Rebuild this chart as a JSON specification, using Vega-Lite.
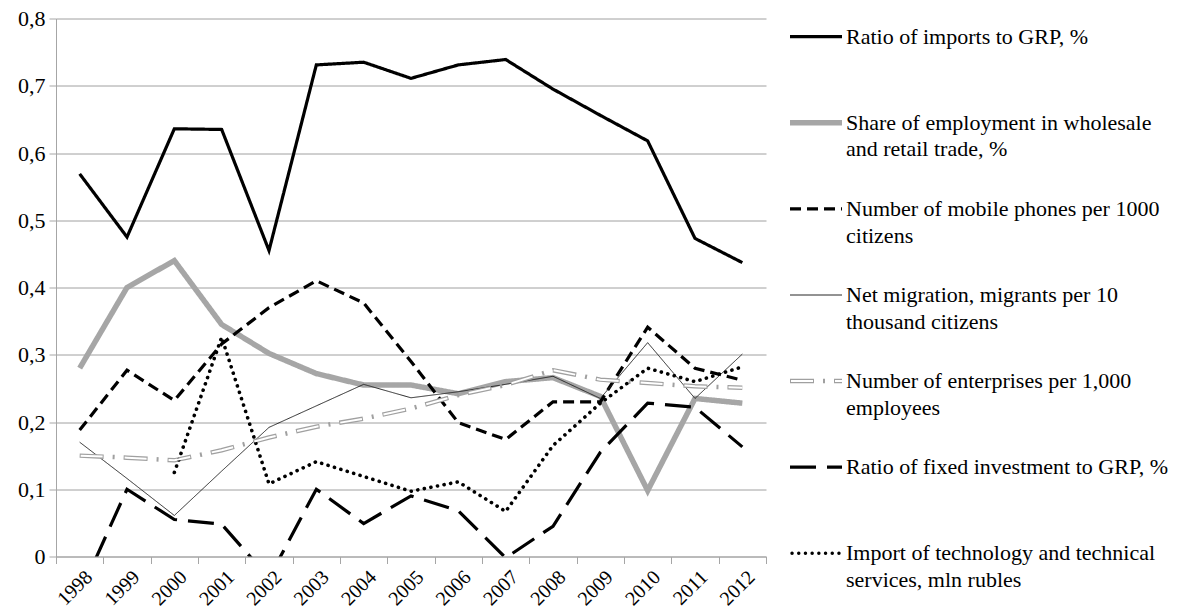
{
  "$schema": "https://vega.github.io/schema/vega-lite/v6.json",
  "autosize": {"type": "none"},
  "width": 710,
  "height": 538,
  "padding": {"left": 56, "top": 18.5, "right": 413, "bottom": 58.5},
  "background": "white",
  "config": {
    "view": {"stroke": null},
    "font": "Liberation Serif",
    "axis": {"labelFont": "Liberation Serif"},
    "text": {"font": "Liberation Serif"}
  },
  "datasets": {
    "main": [
      {"year": "1998", "series": "Ratio of imports to GRP, %", "value": 0.569},
      {"year": "1999", "series": "Ratio of imports to GRP, %", "value": 0.475},
      {"year": "2000", "series": "Ratio of imports to GRP, %", "value": 0.636},
      {"year": "2001", "series": "Ratio of imports to GRP, %", "value": 0.635},
      {"year": "2002", "series": "Ratio of imports to GRP, %", "value": 0.455},
      {"year": "2003", "series": "Ratio of imports to GRP, %", "value": 0.731},
      {"year": "2004", "series": "Ratio of imports to GRP, %", "value": 0.735},
      {"year": "2005", "series": "Ratio of imports to GRP, %", "value": 0.711},
      {"year": "2006", "series": "Ratio of imports to GRP, %", "value": 0.731},
      {"year": "2007", "series": "Ratio of imports to GRP, %", "value": 0.739},
      {"year": "2008", "series": "Ratio of imports to GRP, %", "value": 0.695},
      {"year": "2009", "series": "Ratio of imports to GRP, %", "value": 0.656},
      {"year": "2010", "series": "Ratio of imports to GRP, %", "value": 0.618},
      {"year": "2011", "series": "Ratio of imports to GRP, %", "value": 0.473},
      {"year": "2012", "series": "Ratio of imports to GRP, %", "value": 0.437},

      {"year": "1998", "series": "Share of employment in wholesale and retail trade, %", "value": 0.28},
      {"year": "1999", "series": "Share of employment in wholesale and retail trade, %", "value": 0.4},
      {"year": "2000", "series": "Share of employment in wholesale and retail trade, %", "value": 0.44},
      {"year": "2001", "series": "Share of employment in wholesale and retail trade, %", "value": 0.345},
      {"year": "2002", "series": "Share of employment in wholesale and retail trade, %", "value": 0.302},
      {"year": "2003", "series": "Share of employment in wholesale and retail trade, %", "value": 0.272},
      {"year": "2004", "series": "Share of employment in wholesale and retail trade, %", "value": 0.255},
      {"year": "2005", "series": "Share of employment in wholesale and retail trade, %", "value": 0.255},
      {"year": "2006", "series": "Share of employment in wholesale and retail trade, %", "value": 0.242},
      {"year": "2007", "series": "Share of employment in wholesale and retail trade, %", "value": 0.26},
      {"year": "2008", "series": "Share of employment in wholesale and retail trade, %", "value": 0.266},
      {"year": "2009", "series": "Share of employment in wholesale and retail trade, %", "value": 0.238},
      {"year": "2010", "series": "Share of employment in wholesale and retail trade, %", "value": 0.098},
      {"year": "2011", "series": "Share of employment in wholesale and retail trade, %", "value": 0.235},
      {"year": "2012", "series": "Share of employment in wholesale and retail trade, %", "value": 0.228},

      {"year": "1998", "series": "Number of mobile phones per 1000 citizens", "value": 0.188},
      {"year": "1999", "series": "Number of mobile phones per 1000 citizens", "value": 0.277},
      {"year": "2000", "series": "Number of mobile phones per 1000 citizens", "value": 0.232},
      {"year": "2001", "series": "Number of mobile phones per 1000 citizens", "value": 0.316},
      {"year": "2002", "series": "Number of mobile phones per 1000 citizens", "value": 0.37},
      {"year": "2003", "series": "Number of mobile phones per 1000 citizens", "value": 0.41},
      {"year": "2004", "series": "Number of mobile phones per 1000 citizens", "value": 0.377},
      {"year": "2005", "series": "Number of mobile phones per 1000 citizens", "value": 0.29},
      {"year": "2006", "series": "Number of mobile phones per 1000 citizens", "value": 0.199},
      {"year": "2007", "series": "Number of mobile phones per 1000 citizens", "value": 0.174},
      {"year": "2008", "series": "Number of mobile phones per 1000 citizens", "value": 0.23},
      {"year": "2009", "series": "Number of mobile phones per 1000 citizens", "value": 0.23},
      {"year": "2010", "series": "Number of mobile phones per 1000 citizens", "value": 0.341},
      {"year": "2011", "series": "Number of mobile phones per 1000 citizens", "value": 0.28},
      {"year": "2012", "series": "Number of mobile phones per 1000 citizens", "value": 0.262},

      {"year": "1998", "series": "Net migration, migrants per 10 thousand citizens", "value": 0.17},
      {"year": "1999", "series": "Net migration, migrants per 10 thousand citizens", "value": 0.116},
      {"year": "2000", "series": "Net migration, migrants per 10 thousand citizens", "value": 0.061},
      {"year": "2001", "series": "Net migration, migrants per 10 thousand citizens", "value": 0.127},
      {"year": "2002", "series": "Net migration, migrants per 10 thousand citizens", "value": 0.192},
      {"year": "2003", "series": "Net migration, migrants per 10 thousand citizens", "value": 0.224},
      {"year": "2004", "series": "Net migration, migrants per 10 thousand citizens", "value": 0.256},
      {"year": "2005", "series": "Net migration, migrants per 10 thousand citizens", "value": 0.236},
      {"year": "2006", "series": "Net migration, migrants per 10 thousand citizens", "value": 0.245},
      {"year": "2007", "series": "Net migration, migrants per 10 thousand citizens", "value": 0.256},
      {"year": "2008", "series": "Net migration, migrants per 10 thousand citizens", "value": 0.268},
      {"year": "2009", "series": "Net migration, migrants per 10 thousand citizens", "value": 0.235},
      {"year": "2010", "series": "Net migration, migrants per 10 thousand citizens", "value": 0.318},
      {"year": "2011", "series": "Net migration, migrants per 10 thousand citizens", "value": 0.235},
      {"year": "2012", "series": "Net migration, migrants per 10 thousand citizens", "value": 0.301},

      {"year": "1998", "series": "Number of enterprises per 1,000 employees", "value": 0.15},
      {"year": "1999", "series": "Number of enterprises per 1,000 employees", "value": 0.147},
      {"year": "2000", "series": "Number of enterprises per 1,000 employees", "value": 0.143},
      {"year": "2001", "series": "Number of enterprises per 1,000 employees", "value": 0.158},
      {"year": "2002", "series": "Number of enterprises per 1,000 employees", "value": 0.177},
      {"year": "2003", "series": "Number of enterprises per 1,000 employees", "value": 0.193},
      {"year": "2004", "series": "Number of enterprises per 1,000 employees", "value": 0.205},
      {"year": "2005", "series": "Number of enterprises per 1,000 employees", "value": 0.22},
      {"year": "2006", "series": "Number of enterprises per 1,000 employees", "value": 0.24},
      {"year": "2007", "series": "Number of enterprises per 1,000 employees", "value": 0.255},
      {"year": "2008", "series": "Number of enterprises per 1,000 employees", "value": 0.277},
      {"year": "2009", "series": "Number of enterprises per 1,000 employees", "value": 0.263},
      {"year": "2010", "series": "Number of enterprises per 1,000 employees", "value": 0.258},
      {"year": "2011", "series": "Number of enterprises per 1,000 employees", "value": 0.253},
      {"year": "2012", "series": "Number of enterprises per 1,000 employees", "value": 0.251},

      {"year": "1998", "series": "Ratio of fixed investment to GRP, %", "value": -0.056},
      {"year": "1999", "series": "Ratio of fixed investment to GRP, %", "value": 0.1},
      {"year": "2000", "series": "Ratio of fixed investment to GRP, %", "value": 0.055},
      {"year": "2001", "series": "Ratio of fixed investment to GRP, %", "value": 0.048},
      {"year": "2002", "series": "Ratio of fixed investment to GRP, %", "value": -0.032},
      {"year": "2003", "series": "Ratio of fixed investment to GRP, %", "value": 0.1},
      {"year": "2004", "series": "Ratio of fixed investment to GRP, %", "value": 0.049},
      {"year": "2005", "series": "Ratio of fixed investment to GRP, %", "value": 0.09},
      {"year": "2006", "series": "Ratio of fixed investment to GRP, %", "value": 0.068},
      {"year": "2007", "series": "Ratio of fixed investment to GRP, %", "value": -0.002},
      {"year": "2008", "series": "Ratio of fixed investment to GRP, %", "value": 0.045},
      {"year": "2009", "series": "Ratio of fixed investment to GRP, %", "value": 0.155},
      {"year": "2010", "series": "Ratio of fixed investment to GRP, %", "value": 0.228},
      {"year": "2011", "series": "Ratio of fixed investment to GRP, %", "value": 0.222},
      {"year": "2012", "series": "Ratio of fixed investment to GRP, %", "value": 0.163},

      {"year": "2000", "series": "Import of technology and technical services, mln rubles", "value": 0.125},
      {"year": "2001", "series": "Import of technology and technical services, mln rubles", "value": 0.326},
      {"year": "2002", "series": "Import of technology and technical services, mln rubles", "value": 0.108},
      {"year": "2003", "series": "Import of technology and technical services, mln rubles", "value": 0.141},
      {"year": "2004", "series": "Import of technology and technical services, mln rubles", "value": 0.119},
      {"year": "2005", "series": "Import of technology and technical services, mln rubles", "value": 0.097},
      {"year": "2006", "series": "Import of technology and technical services, mln rubles", "value": 0.111},
      {"year": "2007", "series": "Import of technology and technical services, mln rubles", "value": 0.067},
      {"year": "2008", "series": "Import of technology and technical services, mln rubles", "value": 0.165},
      {"year": "2009", "series": "Import of technology and technical services, mln rubles", "value": 0.228},
      {"year": "2010", "series": "Import of technology and technical services, mln rubles", "value": 0.28},
      {"year": "2011", "series": "Import of technology and technical services, mln rubles", "value": 0.26},
      {"year": "2012", "series": "Import of technology and technical services, mln rubles", "value": 0.282}
    ],
    "legend": [
      {"series": "Ratio of imports to GRP, %", "label": "Ratio of imports to GRP, %"},
      {"series": "Share of employment in wholesale and retail trade, %", "label": "Share of employment in wholesale\nand retail trade, %"},
      {"series": "Number of mobile phones per 1000 citizens", "label": "Number of mobile phones per 1000\ncitizens"},
      {"series": "Net migration, migrants per 10 thousand citizens", "label": "Net migration, migrants per 10\nthousand citizens"},
      {"series": "Number of enterprises per 1,000 employees", "label": "Number of enterprises per 1,000\nemployees"},
      {"series": "Ratio of fixed investment to GRP, %", "label": "Ratio of fixed investment to GRP, %"},
      {"series": "Import of technology and technical services, mln rubles", "label": "Import of technology and technical\nservices, mln rubles"}
    ]
  },
  "resolve": {"scale": {"x": "independent", "y": "independent"}},
  "layer": [
    {
      "data": {"name": "main"},
      "encoding": {
        "x": {
          "field": "year", "type": "ordinal", "bandPosition": 0.5,
          "scale": {"type": "band", "paddingInner": 0, "paddingOuter": 0},
          "axis": {
            "title": null, "labelAngle": -45, "labelFont": "Liberation Serif", "labelFontSize": 20,
            "labelColor": "black", "tickBand": "extent", "grid": false, "domainColor": "#a6a6a6",
            "tickColor": "#a6a6a6", "tickSize": 7, "labelPadding": 3, "labelOffset": 2
          }
        },
        "y": {
          "field": "value", "type": "quantitative",
          "scale": {"domain": [0, 0.8], "nice": false, "zero": false},
          "axis": {
            "title": null, "values": [0, 0.1, 0.2, 0.3, 0.4, 0.5, 0.6, 0.7, 0.8],
            "labelExpr": "datum.value == 0 ? '0' : replace(format(datum.value, '.1f'), '.', ',')",
            "labelFont": "Liberation Serif", "labelFontSize": 22, "labelColor": "black",
            "grid": true, "gridColor": "#a0a0a0", "domainColor": "#a6a6a6", "tickColor": "#a6a6a6",
            "tickSize": 7, "labelPadding": 4
          }
        },
        "color": {
          "field": "series", "type": "nominal", "legend": null,
          "scale": {
            "domain": ["Ratio of imports to GRP, %", "Share of employment in wholesale and retail trade, %", "Number of mobile phones per 1000 citizens", "Net migration, migrants per 10 thousand citizens", "Number of enterprises per 1,000 employees", "Ratio of fixed investment to GRP, %", "Import of technology and technical services, mln rubles"],
            "range": ["#000000", "#a6a6a6", "#000000", "#262626", "#a0a0a0", "#000000", "#000000"]
          }
        },
        "strokeDash": {
          "field": "series", "type": "nominal", "legend": null,
          "scale": {
            "domain": ["Ratio of imports to GRP, %", "Share of employment in wholesale and retail trade, %", "Number of mobile phones per 1000 citizens", "Net migration, migrants per 10 thousand citizens", "Number of enterprises per 1,000 employees", "Ratio of fixed investment to GRP, %", "Import of technology and technical services, mln rubles"],
            "range": [[1, 0], [1, 0], [11, 6], [1, 0], [24, 9, 2, 9], [26, 11], [0.1, 6.6]]
          }
        },
        "strokeWidth": {
          "condition": [
            {"test": "datum.series == 'Share of employment in wholesale and retail trade, %'", "value": 5.5},
            {"test": "datum.series == 'Net migration, migrants per 10 thousand citizens'", "value": 1},
            {"test": "datum.series == 'Number of enterprises per 1,000 employees'", "value": 4.5},
            {"test": "datum.series == 'Import of technology and technical services, mln rubles'", "value": 3.6}
          ],
          "value": 3.2
        }
      },
      "layer": [
        {
          "transform": [{"filter": "datum.series != 'Import of technology and technical services, mln rubles'"}],
          "mark": {"type": "line", "clip": true, "strokeCap": "butt", "strokeJoin": "miter"}
        },
        {
          "transform": [{"filter": "datum.series == 'Import of technology and technical services, mln rubles'"}],
          "mark": {"type": "line", "clip": true, "strokeCap": "round", "strokeJoin": "round"}
        },
        {
          "transform": [{"filter": "datum.series == 'Number of enterprises per 1,000 employees'"}],
          "mark": {"type": "line", "clip": true, "strokeDashOffset": -1, "strokeCap": "butt"},
          "encoding": {"color": {"value": "white"}, "strokeDash": {"value": [22, 22]}, "strokeWidth": {"value": 2}}
        }
      ]
    },
    {
      "data": {"name": "legend"},
      "encoding": {
        "y": {
          "field": "series", "type": "nominal", "axis": null,
          "scale": {
            "type": "point", "padding": 0, "range": [18.2, 534.8],
            "domain": ["Ratio of imports to GRP, %", "Share of employment in wholesale and retail trade, %", "Number of mobile phones per 1000 citizens", "Net migration, migrants per 10 thousand citizens", "Number of enterprises per 1,000 employees", "Ratio of fixed investment to GRP, %", "Import of technology and technical services, mln rubles"]
          }
        },
        "x": {"datum": 0, "type": "quantitative", "scale": {"domain": [0, 389], "range": [734, 1123]}, "axis": null}
      },
      "layer": [
        {
          "transform": [{"filter": "datum.series != 'Import of technology and technical services, mln rubles'"}],
          "mark": {"type": "rule", "strokeCap": "butt"},
          "encoding": {
            "x2": {"datum": 52},
            "color": {"field": "series", "type": "nominal", "legend": null},
            "strokeDash": {"field": "series", "type": "nominal", "legend": null},
            "strokeWidth": {
              "condition": [
                {"test": "datum.series == 'Share of employment in wholesale and retail trade, %'", "value": 5.5},
                {"test": "datum.series == 'Net migration, migrants per 10 thousand citizens'", "value": 1},
                {"test": "datum.series == 'Number of enterprises per 1,000 employees'", "value": 4.5}
              ],
              "value": 3.2
            }
          }
        },
        {
          "transform": [{"filter": "datum.series == 'Import of technology and technical services, mln rubles'"}],
          "mark": {"type": "rule", "strokeCap": "round", "strokeWidth": 3.4},
          "encoding": {
            "x": {"datum": 2, "type": "quantitative"},
            "x2": {"datum": 50},
            "color": {"field": "series", "type": "nominal", "legend": null},
            "strokeDash": {"field": "series", "type": "nominal", "legend": null}
          }
        },
        {
          "transform": [{"filter": "datum.series == 'Number of enterprises per 1,000 employees'"}],
          "mark": {"type": "rule", "color": "white", "strokeWidth": 2, "strokeDash": [22, 22], "strokeDashOffset": -1, "strokeCap": "butt"},
          "encoding": {
            "x2": {"datum": 52}
          }
        },
        {
          "mark": {"type": "text", "align": "left", "baseline": "middle", "lineBreak": "\n", "font": "Liberation Serif", "fontSize": 22, "lineHeight": 26.7, "color": "black"},
          "encoding": {
            "x": {"datum": 56, "type": "quantitative"},
            "text": {"field": "label"}
          }
        }
      ]
    }
  ]
}
